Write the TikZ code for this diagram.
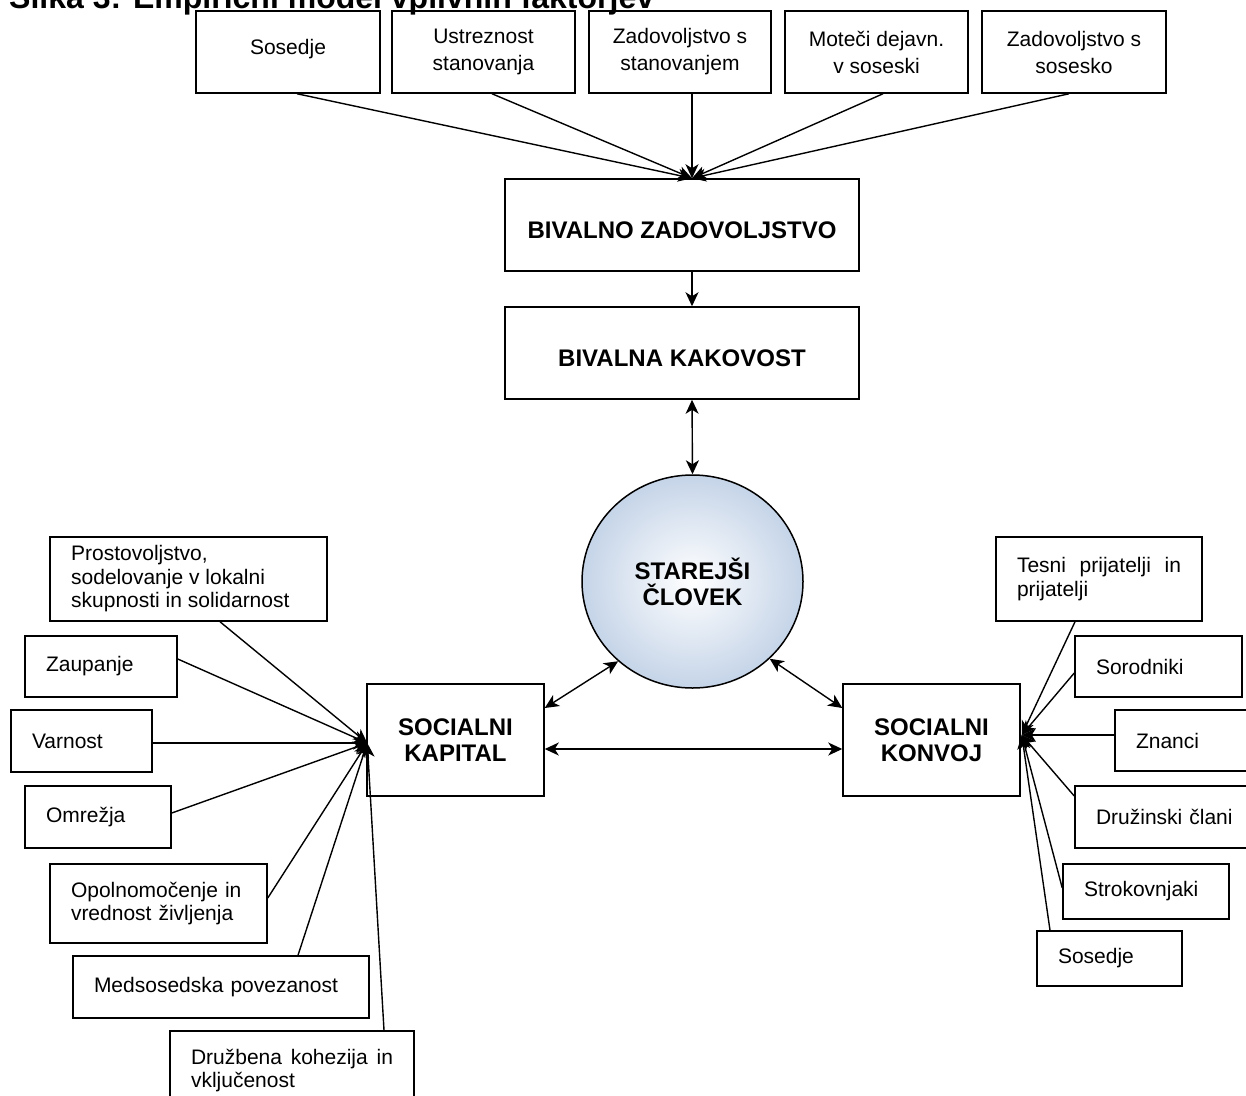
\documentclass[tikz,border=0pt]{standalone}
\usepackage{fontspec}
\setmainfont{Liberation Sans}
\usetikzlibrary{arrows.meta,shapes.geometric,calc}
\definecolor{cblue}{RGB}{197,212,232}
\newcommand\myfn{\fontsize{21}{23.5}\selectfont}
\newcommand\myfnt{\fontsize{21}{27}\selectfont}
\newcommand\myfb{\bfseries\fontsize{24}{26}\selectfont}
\newcommand\myft{\bfseries\fontsize{32}{36}\selectfont}
\begin{document}
\begin{tikzpicture}[x=1pt,y=-1pt,
  box/.style={draw, line width=1.5pt, inner sep=0pt, font=\myfnt, align=center},
  lbox/.style={draw, line width=1.5pt, inner xsep=21pt, inner ysep=0pt, font=\myfn, align=left},
  bbox/.style={draw, line width=1.5pt, inner sep=0pt, font=\myfb, align=center},
  tip/.tip={Stealth[length=14pt,width=13pt,inset=4pt]},
  arr/.style={line width=1.4pt, -tip},
  darr/.style={line width=1.4pt, tip-tip}]
\useasboundingbox (0,0) rectangle (1246,1095);

% title (cut off at the top)
\node[anchor=base west, inner sep=0pt, font=\myft] (title) at (9,8) {Slika 3: Empirični model vplivnih faktorjev};

% top boxes
\node[box, minimum width=184, minimum height=82, text height=14pt, text depth=10pt] (t1) at (288,52) {Sosedje};
\node[box, minimum width=183, minimum height=82] (t2) at (483.5,52) {Ustreznost\\stanovanja};
\node[box, minimum width=182, minimum height=82] (t3) at (680,52) {Zadovoljstvo s\\stanovanjem};
\node[box, minimum width=183, minimum height=82] (t4) at (876.5,52) {Moteči dejavn.\\v soseski};
\node[box, minimum width=184, minimum height=82] (t5) at (1074,52) {Zadovoljstvo s\\sosesko};

% central column
\node[bbox, minimum width=354, minimum height=92, text height=27pt, text depth=0pt] (bz) at (682,225) {BIVALNO ZADOVOLJSTVO};
\node[bbox, minimum width=354, minimum height=92, text height=27pt, text depth=0pt] (bk) at (682,353) {BIVALNA KAKOVOST};
\node[ellipse, draw, line width=1.5pt, minimum width=221, minimum height=213, inner sep=0pt,
      inner color=white, outer color=cblue, font=\myfb, align=center] (circ) at (692.5,581.5) {STAREJŠI\\ČLOVEK};
\node[bbox, minimum width=177, minimum height=112] (kap) at (455.5,740) {SOCIALNI\\KAPITAL};
\node[bbox, minimum width=177, minimum height=112] (kon) at (931.5,740) {SOCIALNI\\KONVOJ};

% left boxes
\node[draw, line width=1.5pt, minimum width=277, minimum height=84, inner sep=0pt] (pro) at (188.5,579) {};
\begin{scope}
  \clip (50,537) rectangle (327,612);
  \node[anchor=north west, inner sep=0pt, font=\myfn, align=left] (protxt) at (71,545.5)
    {Prostovoljstvo,\\sodelovanje v lokalni\\skupnosti in solidarnost};
\end{scope}
\node[lbox, text width=110, minimum height=61] (zau) at (101,666.5) {Zaupanje};
\node[lbox, text width=99,  minimum height=62] (var) at (81.5,741) {Varnost};
\node[lbox, text width=104, minimum height=62] (omr) at (98,817) {Omrežja};
\node[lbox, text width=175, minimum height=79] (opo) at (158.5,903.5) {Opolnomočenje in\\vrednost življenja};
\node[lbox, text width=254, minimum height=62] (med) at (221,987) {Medsosedska povezanost};
\node[lbox, text width=202, minimum height=79] (dru) at (292,1070.5) {Družbena\hfill kohezija\hfill in\\vključenost};

% right boxes
\node[lbox, text width=164, minimum height=84] (tes) at (1099,579) {Tesni\hfill prijatelji\hfill in\\prijatelji};
\node[lbox, text width=125, minimum height=61] (sor) at (1158.5,666.5) {Sorodniki};
\node[lbox, text width=133, minimum height=61] (zna) at (1202.5,740.5) {Znanci};
\node[lbox, text width=148, minimum height=62] (druz) at (1170,817) {Družinski člani};
\node[lbox, text width=124, minimum height=55] (str) at (1146,891.5) {Strokovnjaki};
\node[lbox, text width=103, minimum height=55] (sos) at (1109.5,958.5) {Sosedje};

% convergence points
\coordinate (zin) at ($(bz.north)+(10,0)$);
\coordinate (kin) at ($(kap.west)+(1,3)$);
\coordinate (vin) at ($(kon.east)+(1,-5)$);

% top arrows
\draw[arr] ($(t1.south)+(9,0)$) -- (zin);
\draw[arr] ($(t2.south)+(8.5,0)$) -- (zin);
\draw[arr] ($(t3.south)+(12,0)$) -- (zin);
\draw[arr] ($(t4.south)+(6.5,0)$) -- (zin);
\draw[arr] ($(t5.south)+(-5,0)$) -- (zin);

% central arrows
\draw[arr] ($(bz.south)+(10,0)$) -- ($(bk.north)+(10,0)$);
\draw[darr] ($(bk.south)+(10,0)$) -- (circ.north);
\draw[darr] (circ.227) -- ($(kap.east)+(0,-32)$);
\draw[darr] (circ.315) -- ($(kon.west)+(0,-32)$);
\draw[darr] ($(kap.east)+(0,9)$) -- ($(kon.west)+(0,9)$);

% left arrows
\draw[arr] ($(pro.south)+(31.5,0)$) -- (kin);
\draw[arr] ($(zau.east)+(0,-7.5)$) -- (kin);
\draw[arr] ($(var.east)+(0,2)$) -- (kin);
\draw[arr] ($(omr.east)+(0,-4)$) -- (kin);
\draw[arr] ($(opo.east)+(0,-5.5)$) -- (kin);
\draw[arr] ($(med.north)+(77,0)$) -- (kin);
\draw[arr] ($(dru.north)+(92,0)$) -- (kin);

% right arrows
\draw[arr] ($(tes.south)+(-24,0)$) -- (vin);
\draw[arr] ($(sor.west)+(0,6.5)$) -- (vin);
\draw[arr] ($(zna.west)+(0,-5.5)$) -- (vin);
\draw[arr] ($(druz.west)+(0,-21)$) -- (vin);
\draw[arr] ($(str.west)+(0,-3.5)$) -- (vin);
\draw[arr] ($(sos.north)+(-59.5,0)$) -- (vin);
\end{tikzpicture}
\end{document}
